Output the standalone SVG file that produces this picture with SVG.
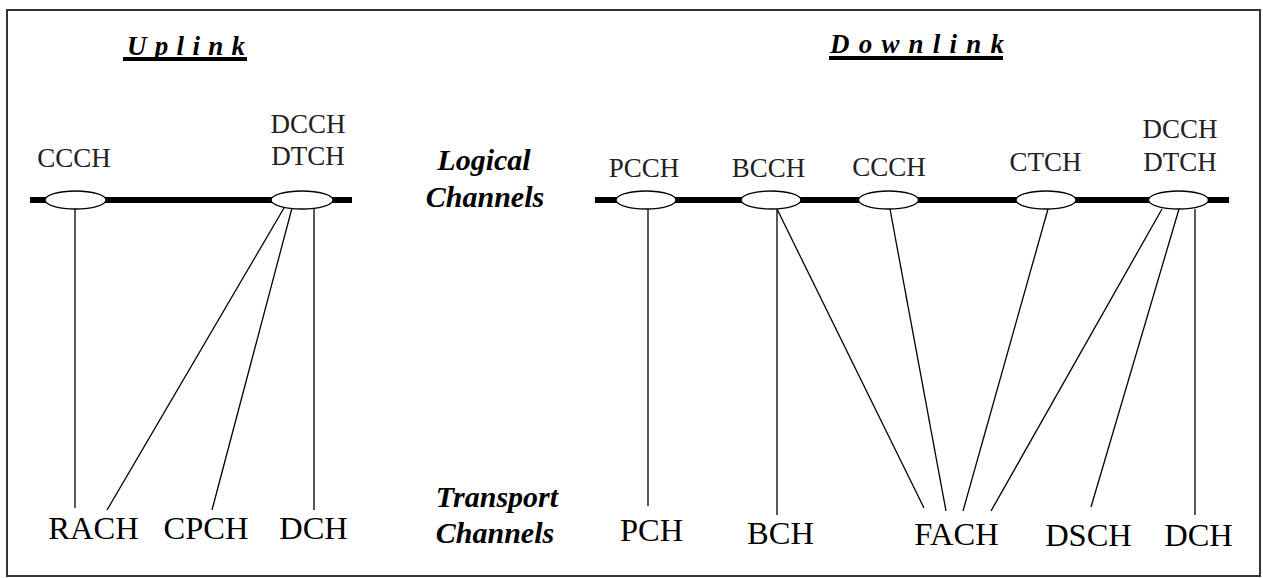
<svg xmlns="http://www.w3.org/2000/svg" width="1263" height="578" viewBox="0 0 1263 578">
<style>
.lbl{font-family:"Liberation Serif","Times New Roman",serif;font-size:27px;fill:#222;text-anchor:middle}
.tr{font-family:"Liberation Serif","Times New Roman",serif;font-size:32.5px;fill:#000;text-anchor:middle}
.hd{font-family:"Liberation Serif","Times New Roman",serif;font-size:30px;font-weight:bold;font-style:italic;fill:#000;text-anchor:middle}
.ttl{font-family:"Liberation Serif","Times New Roman",serif;font-size:27px;font-weight:bold;font-style:italic;fill:#000}
.bar{stroke:#000;stroke-width:6}
.ell{fill:#fff;stroke:#000;stroke-width:1.3}
.conn line{stroke:#000;stroke-width:1.3}
</style>
<rect x="0" y="0" width="1263" height="578" fill="#fff"/>
<rect x="7" y="10" width="1253" height="566" fill="none" stroke="#333" stroke-width="2"/>

<g id="titles">
<text class="ttl" x="127" y="55" letter-spacing="8.3">Uplink</text>
<rect x="123" y="57" width="124" height="4" fill="#000"/>
<text class="ttl" x="830" y="53" letter-spacing="9.2">Downlink</text>
<rect x="829" y="56" width="174" height="4" fill="#000"/>
</g>

<g id="row-labels">
<text class="hd" x="484" y="170">Logical</text>
<text class="hd" x="485" y="207">Channels</text>
<text class="hd" x="497" y="507">Transport</text>
<text class="hd" x="495" y="543">Channels</text>
</g>

<g id="bars">
<line class="bar" x1="30" y1="200" x2="352" y2="200"/>
<line class="bar" x1="595" y1="200" x2="1229" y2="200"/>
</g>

<g class="conn" id="connectors">
<line x1="75" y1="209" x2="75" y2="508"/>
<line x1="284" y1="208" x2="107" y2="510"/>
<line x1="292" y1="208" x2="212" y2="510"/>
<line x1="314" y1="209" x2="314" y2="510"/>
<line x1="648" y1="209" x2="648" y2="506"/>
<line x1="777" y1="209" x2="777" y2="515"/>
<line x1="777" y1="209" x2="924" y2="508"/>
<line x1="890" y1="209" x2="946" y2="511"/>
<line x1="1048" y1="209" x2="963" y2="511"/>
<line x1="1162" y1="209" x2="991" y2="511"/>
<line x1="1179" y1="209" x2="1091" y2="507"/>
<line x1="1195" y1="209" x2="1195" y2="515"/>
</g>

<g id="ul-ccch"><ellipse class="ell" cx="75.5" cy="200" rx="30.5" ry="9"/><text class="lbl" x="74" y="167">CCCH</text></g>
<g id="ul-dcch"><ellipse class="ell" cx="302" cy="200" rx="31" ry="9"/><text class="lbl" x="308" y="133">DCCH</text><text class="lbl" x="308" y="165">DTCH</text></g>

<g id="dl-pcch"><ellipse class="ell" cx="646" cy="200" rx="30" ry="9"/><text class="lbl" x="644" y="177">PCCH</text></g>
<g id="dl-bcch"><ellipse class="ell" cx="771" cy="200" rx="30" ry="9"/><text class="lbl" x="768.5" y="177">BCCH</text></g>
<g id="dl-ccch"><ellipse class="ell" cx="888.5" cy="200" rx="30" ry="9"/><text class="lbl" x="889" y="176">CCCH</text></g>
<g id="dl-ctch"><ellipse class="ell" cx="1046" cy="200" rx="30" ry="9"/><text class="lbl" x="1045.5" y="171">CTCH</text></g>
<g id="dl-dcch"><ellipse class="ell" cx="1178.5" cy="200" rx="30" ry="9"/><text class="lbl" x="1180" y="138">DCCH</text><text class="lbl" x="1180" y="171">DTCH</text></g>

<g id="ul-rach"><text class="tr" x="93.5" y="539">RACH</text></g>
<g id="ul-cpch"><text class="tr" x="206" y="539">CPCH</text></g>
<g id="ul-dch"><text class="tr" x="313.5" y="539">DCH</text></g>
<g id="dl-pch"><text class="tr" x="651.5" y="541">PCH</text></g>
<g id="dl-bch"><text class="tr" x="780.5" y="544">BCH</text></g>
<g id="dl-fach"><text class="tr" x="956.5" y="545">FACH</text></g>
<g id="dl-dsch"><text class="tr" x="1088.5" y="546">DSCH</text></g>
<g id="dl-dch"><text class="tr" x="1198.5" y="546">DCH</text></g>
</svg>
